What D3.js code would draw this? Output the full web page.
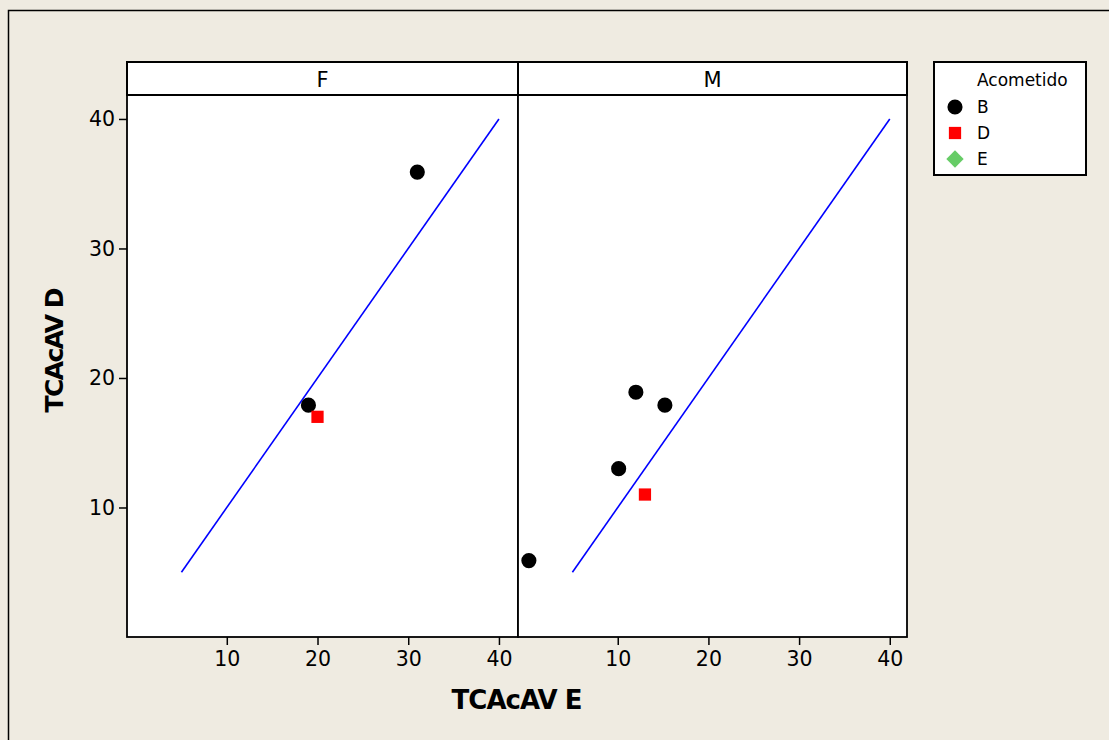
<!DOCTYPE html>
<html><head><meta charset="utf-8">
<script src="https://cdn.jsdelivr.net/npm/d3@7"></script>
<style>body{margin:0;background:#EFEBE1;} svg{display:block;}</style>
</head><body>
<svg id="c" width="1109" height="740"></svg>
<script>
const panels = ["F", "M"];
const groups = ["B", "D", "E"];
const groupColors = ["#000000", "#FF0000", "#66CC66"];
const xTicks = [10, 20, 30, 40];
const yTicks = [10, 20, 30, 40];
// points: panel, x (TCAcAV E), y (TCAcAV D), group
const ptPanel = ["F", "F", "F", "M", "M", "M", "M", "M"];
const ptX =     [31,  19,  20,  0.2, 12,  15.2, 10.1, 13];
const ptY =     [35.9, 17.9, 17, 5.9, 18.9, 17.9, 13, 11];
const ptGroup = ["B", "B", "D", "B", "B", "B", "B", "D"];
const refLine = [5, 40]; // y = x reference line

(function(){
const svg = d3.select("#c");
const font = "DejaVu Sans, Verdana, sans-serif";
svg.append("rect").attr("x", 8.5).attr("y", 10.5).attr("width", 1200).attr("height", 800)
  .attr("fill", "#EFEBE1").attr("stroke", "#000").attr("stroke-width", 1.5);

const pTop = 95, pBottom = 637, headTop = 62;
const panelX = [[127, 518], [518, 907]];
const panelDom = [[-1, 42.1], [-1, 41.9]];
const y = d3.scaleLinear().domain([0, 41.85]).range([pBottom, pTop]);
const sym = {B: d3.symbolCircle, D: d3.symbolSquare, E: d3.symbolSquare};
const symSize = {B: 180, D: 150, E: 150};
const symRot = {B: 0, D: 0, E: 45};
const col = d3.scaleOrdinal().domain(groups).range(groupColors);

panels.forEach((p, i) => {
  const [x0, x1] = panelX[i];
  const x = d3.scaleLinear().domain(panelDom[i]).range([x0, x1]);
  const g = svg.append("g");
  g.append("rect").attr("x", x0).attr("y", pTop).attr("width", x1 - x0).attr("height", pBottom - pTop)
    .attr("fill", "#fff");
  g.append("rect").attr("x", x0).attr("y", headTop).attr("width", x1 - x0).attr("height", pTop - headTop)
    .attr("fill", "#fff").attr("stroke", "#000").attr("stroke-width", 2);
  g.append("text").attr("x", (x0 + x1) / 2).attr("y", 87).attr("text-anchor", "middle")
    .attr("font-family", font).attr("font-size", 21).text(p);
  const xa = g.append("g").attr("transform", `translate(0,${pBottom})`)
    .call(d3.axisBottom(x).tickValues(xTicks).tickSize(8).tickSizeOuter(0).tickPadding(6));
  xa.select(".domain").remove();
  xa.selectAll("line").attr("stroke-width", 1.5);
  xa.selectAll("text").attr("font-family", font).attr("font-size", 20.5).attr("fill", "#000");
  g.append("line").attr("x1", x(refLine[0])).attr("y1", y(refLine[0]))
    .attr("x2", x(refLine[1])).attr("y2", y(refLine[1]))
    .attr("stroke", "#0000FF").attr("stroke-width", 1.6);
  ptX.forEach((v, k) => {
    if (ptPanel[k] !== p) return;
    const gr = ptGroup[k];
    g.append("path").attr("d", d3.symbol().type(sym[gr]).size(symSize[gr])())
      .attr("transform", `translate(${x(v)},${y(ptY[k])}) rotate(${symRot[gr]})`).attr("fill", col(gr));
  });
  g.append("rect").attr("x", x0).attr("y", pTop).attr("width", x1 - x0).attr("height", pBottom - pTop)
    .attr("fill", "none").attr("stroke", "#000").attr("stroke-width", 1.8);
});

const ya = svg.append("g").attr("transform", `translate(${panelX[0][0]},0)`)
  .call(d3.axisLeft(y).tickValues(yTicks).tickSize(8).tickSizeOuter(0).tickPadding(4));
ya.select(".domain").remove();
ya.selectAll("line").attr("stroke-width", 1.5);
ya.selectAll("text").attr("font-family", font).attr("font-size", 20.5).attr("fill", "#000");

svg.append("text").attr("x", 517).attr("y", 709).attr("text-anchor", "middle")
  .attr("font-family", font).attr("font-weight", "bold").attr("font-size", 26)
  .attr("textLength", 131).text("TCAcAV E");
svg.append("text").attr("transform", "translate(63,350) rotate(-90)").attr("text-anchor", "middle")
  .attr("font-family", font).attr("font-weight", "bold").attr("font-size", 25)
  .attr("textLength", 125).text("TCAcAV D");

const lg = svg.append("g");
lg.append("rect").attr("x", 934).attr("y", 62).attr("width", 152).attr("height", 113)
  .attr("fill", "#fff").attr("stroke", "#000").attr("stroke-width", 2);
lg.append("text").attr("x", 977).attr("y", 86).attr("font-family", font).attr("font-size", 17).text("Acometido");
groups.forEach((gr, i) => {
  const yy = 107 + i * 26;
  lg.append("path").attr("d", d3.symbol().type(sym[gr]).size(symSize[gr])())
    .attr("transform", `translate(955,${yy}) rotate(${symRot[gr]})`).attr("fill", col(gr));
  lg.append("text").attr("x", 977).attr("y", yy + 6).attr("font-family", font).attr("font-size", 17).text(gr);
});
})();
</script>
</body></html>
